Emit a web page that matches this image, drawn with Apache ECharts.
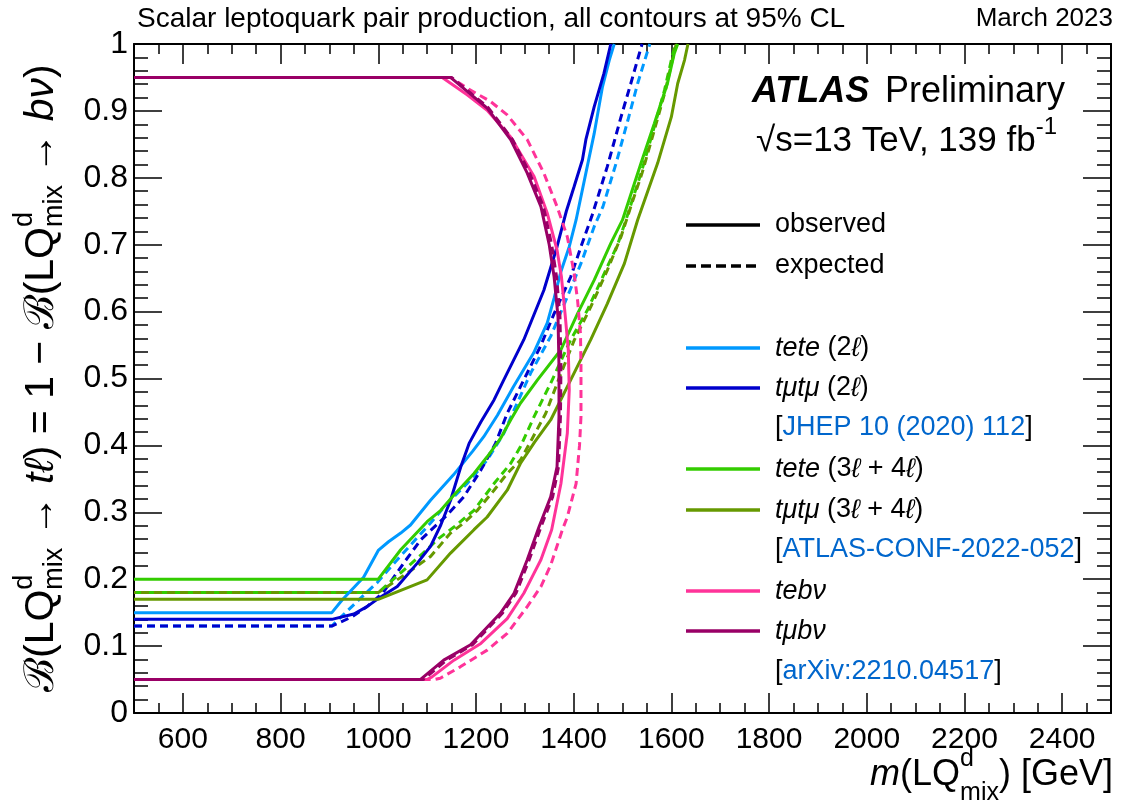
<!DOCTYPE html>
<html><head><meta charset="utf-8">
<script src="https://cdn.jsdelivr.net/npm/echarts@6/dist/echarts.min.js"></script>
<style>html,body{margin:0;padding:0;background:#fff}#c{width:1137px;height:808px}</style>
</head><body><div id="c"></div><script>
// ---------- data ----------
const xTickLabels = [600,800,1000,1200,1400,1600,1800,2000,2200,2400];
const tete2Obs = [[500,0.15],[905,0.15],[926,0.169],[970,0.203],[1000,0.243],[1021,0.256],[1046,0.269],[1066,0.281],[1107,0.318],[1154,0.356],[1193,0.391],[1216,0.413],[1244,0.445],[1277,0.488],[1318,0.538],[1346,0.583],[1360,0.62],[1374,0.66],[1391,0.697],[1405,0.737],[1425,0.807],[1442,0.866],[1459,0.936],[1473,0.976],[1483,1.0]];
const tmtm2Obs = [[500,0.14],[905,0.14],[950,0.148],[977,0.159],[1000,0.171],[1039,0.189],[1080,0.224],[1107,0.249],[1128,0.281],[1148,0.318],[1169,0.368],[1186,0.403],[1210,0.435],[1237,0.468],[1257,0.498],[1298,0.558],[1339,0.632],[1366,0.697],[1385,0.75],[1401,0.787],[1418,0.827],[1425,0.857],[1442,0.906],[1462,0.956],[1476,1.0]];
const tete2Exp = [[500,0.13],[905,0.13],[930,0.148],[960,0.169],[998,0.195],[1018,0.212],[1066,0.251],[1107,0.284],[1141,0.313],[1182,0.343],[1223,0.378],[1257,0.418],[1275,0.448],[1312,0.508],[1353,0.563],[1387,0.622],[1415,0.672],[1442,0.727],[1460,0.757],[1487,0.822],[1511,0.886],[1531,0.941],[1552,0.991],[1556,1.0]];
const tmtm2Exp = [[500,0.13],[905,0.13],[947,0.144],[977,0.159],[1010,0.18],[1052,0.224],[1087,0.259],[1141,0.296],[1175,0.323],[1210,0.363],[1240,0.403],[1264,0.448],[1298,0.498],[1332,0.548],[1360,0.597],[1394,0.652],[1415,0.697],[1437,0.742],[1469,0.817],[1497,0.891],[1517,0.941],[1540,1.0]];
const tete34Obs = [[500,0.2],[1000,0.2],[1046,0.244],[1100,0.286],[1128,0.303],[1155,0.326],[1196,0.358],[1223,0.383],[1250,0.41],[1271,0.438],[1291,0.463],[1326,0.498],[1374,0.543],[1408,0.597],[1442,0.647],[1476,0.702],[1500,0.737],[1538,0.822],[1565,0.881],[1592,0.941],[1606,0.986],[1613,1.0]];
const tete34Exp = [[500,0.18],[1000,0.18],[1050,0.212],[1090,0.238],[1124,0.261],[1155,0.278],[1196,0.303],[1237,0.343],[1271,0.373],[1291,0.398],[1319,0.443],[1353,0.493],[1394,0.558],[1428,0.602],[1469,0.667],[1490,0.70],[1507,0.737],[1538,0.807],[1565,0.876],[1586,0.931],[1600,0.976],[1608,1.0]];
const tmtm34Obs = [[500,0.17],[1000,0.17],[1100,0.199],[1148,0.239],[1196,0.274],[1223,0.293],[1264,0.333],[1291,0.373],[1320,0.405],[1353,0.438],[1394,0.498],[1435,0.558],[1469,0.612],[1504,0.672],[1531,0.737],[1572,0.822],[1600,0.891],[1613,0.941],[1627,0.976],[1634,1.0]];
const tmtm34Exp = [[500,0.18],[1000,0.18],[1059,0.209],[1107,0.234],[1148,0.269],[1175,0.284],[1203,0.303],[1237,0.333],[1264,0.358],[1291,0.378],[1315,0.41],[1343,0.448],[1370,0.50],[1401,0.557],[1435,0.607],[1469,0.662],[1497,0.712],[1517,0.757],[1540,0.807],[1567,0.876],[1588,0.931],[1602,0.976],[1610,1.0]];
const tebvObs = [[500,0.95],[1131,0.95],[1182,0.924],[1223,0.901],[1271,0.861],[1319,0.802],[1346,0.747],[1366,0.692],[1375,0.652],[1383,0.592],[1389,0.543],[1391,0.483],[1387,0.418],[1374,0.343],[1355,0.274],[1333,0.229],[1319,0.209],[1298,0.179],[1264,0.141],[1210,0.104],[1155,0.079],[1110,0.054],[1100,0.05],[500,0.05]];
const tebvExp = [[500,0.95],[1148,0.95],[1182,0.934],[1230,0.914],[1264,0.894],[1305,0.857],[1339,0.807],[1366,0.757],[1387,0.712],[1401,0.657],[1408,0.617],[1414,0.567],[1415,0.518],[1415,0.443],[1412,0.40],[1405,0.343],[1387,0.293],[1377,0.274],[1353,0.221],[1333,0.189],[1305,0.159],[1264,0.119],[1223,0.094],[1168,0.069],[1127,0.052],[1115,0.05],[500,0.05]];
const tmbvObs = [[500,0.95],[1148,0.95],[1223,0.904],[1271,0.857],[1305,0.807],[1333,0.757],[1350,0.70],[1360,0.652],[1368,0.592],[1370,0.518],[1370,0.443],[1366,0.368],[1353,0.323],[1329,0.278],[1305,0.229],[1278,0.179],[1250,0.149],[1189,0.102],[1134,0.079],[1086,0.05],[500,0.05]];
const tmbvExp = [[500,0.95],[1150,0.95],[1225,0.905],[1275,0.857],[1310,0.807],[1338,0.757],[1355,0.70],[1365,0.652],[1372,0.592],[1374,0.518],[1373,0.443],[1369,0.368],[1357,0.323],[1333,0.278],[1309,0.229],[1282,0.179],[1254,0.149],[1193,0.102],[1140,0.079],[1092,0.05],[500,0.05]];

// ---------- style ----------
const C = {lb:'#0099ff', db:'#0000cc', gr:'#33cc00', ol:'#669900', pk:'#ff3399', pu:'#990066', link:'#0066cc'};
const FAM = '"Liberation Sans", Arial, Helvetica, sans-serif';
const DASH = [8,5];

const mctx = document.createElement('canvas').getContext('2d');
function fnt(size, it, bold){ return (it?'italic ':'')+(bold?'bold ':'')+size+'px '+FAM; }
function tw(t, f){ mctx.font = f; return mctx.measureText(t).width; }
function layout(segs){
  let x = 0; const items = [];
  for (const s of segs){
    if (s.stack){
      let w = 0;
      for (const u of s.stack){ items.push(Object.assign({}, u, {x})); w = Math.max(w, tw(u.t, fnt(u.size, u.it, u.bold))); }
      x += w;
    } else { items.push(Object.assign({}, s, {x})); x += tw(s.t, fnt(s.size, s.it, s.bold)); }
  }
  return {items, width:x};
}
function toEls(lay, ox, oy){
  return lay.items.map(it => ({type:'text', x: ox + it.x, y: oy + (it.dy||0), silent:true,
    style:{text: it.t, font: fnt(it.size, it.it, it.bold), fill: it.fill||'#000',
      textAlign:'left', align:'left', textVerticalAlign:'middle', verticalAlign:'middle'}}));
}

const graphics = [];
// header
graphics.push({type:'text', x:137, y:19, style:{text:'Scalar leptoquark pair production, all contours at 95% CL', font:fnt(28), fill:'#000', textAlign:'left', align:'left', textVerticalAlign:'middle', verticalAlign:'middle'}});
graphics.push({type:'text', x:1113, y:19, style:{text:'March 2023', font:fnt(26), fill:'#000', textAlign:'right', align:'right', textVerticalAlign:'middle', verticalAlign:'middle'}});
// ATLAS
graphics.push(...toEls(layout([{t:'ATLAS', size:36, it:true, bold:true}]), 752, 92));
graphics.push(...toEls(layout([{t:'Preliminary', size:36}]), 885, 92));
graphics.push(...toEls(layout([{t:'√s=13 TeV, 139 fb', size:35},{t:'-1', size:24, dy:-14}]), 756, 141));

// y-axis title (rotated group)
const S = 41, s2 = 27;
const yTitle = layout([
  {t:'ℬ', size:S},{t:'(LQ', size:S},{stack:[{t:'d', size:s2, dy:-17},{t:'mix', size:s2, dy:13}]},
  {t:' → ', size:S},{t:'tℓ', size:S, it:true},{t:') = 1 − ', size:S},
  {t:'ℬ', size:S},{t:'(LQ', size:S},{stack:[{t:'d', size:s2, dy:-17},{t:'mix', size:s2, dy:13}]},
  {t:' → ', size:S},{t:'bν', size:S, it:true},{t:')', size:S}
]);
graphics.push({type:'group', x:42, y:692, rotation:Math.PI/2, children: toEls(yTitle, 0, 0)});

// x-axis title
const XS = 36, xs2 = 25;
const xTitle = layout([{t:'m', size:XS, it:true},{t:'(LQ', size:XS},{stack:[{t:'d', size:xs2, dy:-16},{t:'mix', size:xs2, dy:18}]},{t:') [GeV]', size:XS}]);
graphics.push(...toEls(xTitle, 1113 - xTitle.width, 775));

// legend
const LX0 = 686, LX1 = 760, TX = 775, LF = 27;
const legendRows = [
  {y:225, color:'#000', dash:false, segs:[{t:'observed'}]},
  {y:266, color:'#000', dash:true, segs:[{t:'expected'}]},
  {y:348, color:C.lb, segs:[{t:'tete', it:true},{t:' (2'},{t:'ℓ', it:true},{t:')'}]},
  {y:388, color:C.db, segs:[{t:'tμtμ', it:true},{t:' (2'},{t:'ℓ', it:true},{t:')'}]},
  {y:428, segs:[{t:'['},{t:'JHEP 10 (2020) 112', fill:C.link},{t:']'}]},
  {y:469, color:C.gr, segs:[{t:'tete', it:true},{t:' (3'},{t:'ℓ', it:true},{t:' + 4'},{t:'ℓ', it:true},{t:')'}]},
  {y:510, color:C.ol, segs:[{t:'tμtμ', it:true},{t:' (3'},{t:'ℓ', it:true},{t:' + 4'},{t:'ℓ', it:true},{t:')'}]},
  {y:550, segs:[{t:'['},{t:'ATLAS-CONF-2022-052', fill:C.link},{t:']'}]},
  {y:591, color:C.pk, segs:[{t:'tebν', it:true}]},
  {y:631, color:C.pu, segs:[{t:'tμbν', it:true}]},
  {y:672, segs:[{t:'['},{t:'arXiv:2210.04517', fill:C.link},{t:']'}]}
];
for (const r of legendRows){
  if (r.color){
    graphics.push({type:'line', silent:true, shape:{x1:LX0, y1:r.y, x2:LX1, y2:r.y},
      style:{stroke:r.color, lineWidth:3.5, lineDash: r.dash ? [10,5] : null}});
  }
  graphics.push(...toEls(layout(r.segs.map(s => Object.assign({size:LF}, s))), TX, r.y));
}

// ---------- chart ----------
const minorX = []; for (let v = 550; v < 2500; v += 50) minorX.push(v);
const axLine = {show:true, lineStyle:{color:'#000', width:2}};
const tickStyle = {color:'#000', width:1.5};
function xAx(pos, major, labels){
  return {type:'value', min:500, max:2500, position:pos, gridIndex:0,
    axisLine: major ? {show:false} : axLine,
    axisTick:{show:true, inside:true, length: major?20:10, lineStyle:tickStyle, customValues: major ? xTickLabels : minorX},
    axisLabel: labels ? {show:true, customValues:xTickLabels, color:'#000', fontSize:30, fontFamily:FAM, margin:12,
      formatter: v => String(Math.round(v))} : {show:false},
    splitLine:{show:false}, minorTick:{show:false}};
}
function yAx(pos, labels){
  return {type:'value', min:0, max:1, interval:0.1, position:pos, gridIndex:0,
    axisLine: axLine,
    axisTick:{show:true, inside:true, length:28, lineStyle:tickStyle},
    minorTick:{show:true, splitNumber:5, length:14, lineStyle:tickStyle},
    axisLabel: labels ? {show:true, color:'#000', fontSize:32, fontFamily:FAM, margin:6,
      formatter: v => (Math.round(v*10)/10).toString()} : {show:false},
    splitLine:{show:false}};
}
function ser(data, color, dashed, offset){
  return {type:'line', data, xAxisIndex:0, yAxisIndex:0, showSymbol:false, symbol:'none', smooth:false,
    clip:true, silent:true, lineStyle:{color, width:3, type: dashed ? DASH : 'solid', dashOffset: offset||0}};
}
const chart = echarts.init(document.getElementById('c'), null, {renderer:'canvas'});
chart.setOption({
  animation:false,
  backgroundColor:'#fff',
  grid:{left:134, right:26, top:44, bottom:95, containLabel:false},
  xAxis:[xAx('bottom', false, true), xAx('bottom', true, false), xAx('top', false, false), xAx('top', true, false)],
  yAxis:[yAx('left', true), yAx('right', false)],
  series:[
    ser(tete2Exp, C.lb, true), ser(tmtm2Exp, C.db, true),
    ser(tete34Exp, C.gr, true), ser(tmtm34Exp, C.ol, true, 6),
    ser(tete2Obs, C.lb, false), ser(tmtm2Obs, C.db, false),
    ser(tete34Obs, C.gr, false), ser(tmtm34Obs, C.ol, false),
    ser(tebvExp, C.pk, true), ser(tebvObs, C.pk, false),
    ser(tmbvExp, C.pu, true), ser(tmbvObs, C.pu, false)
  ],
  graphic: graphics
});
</script></body></html>
